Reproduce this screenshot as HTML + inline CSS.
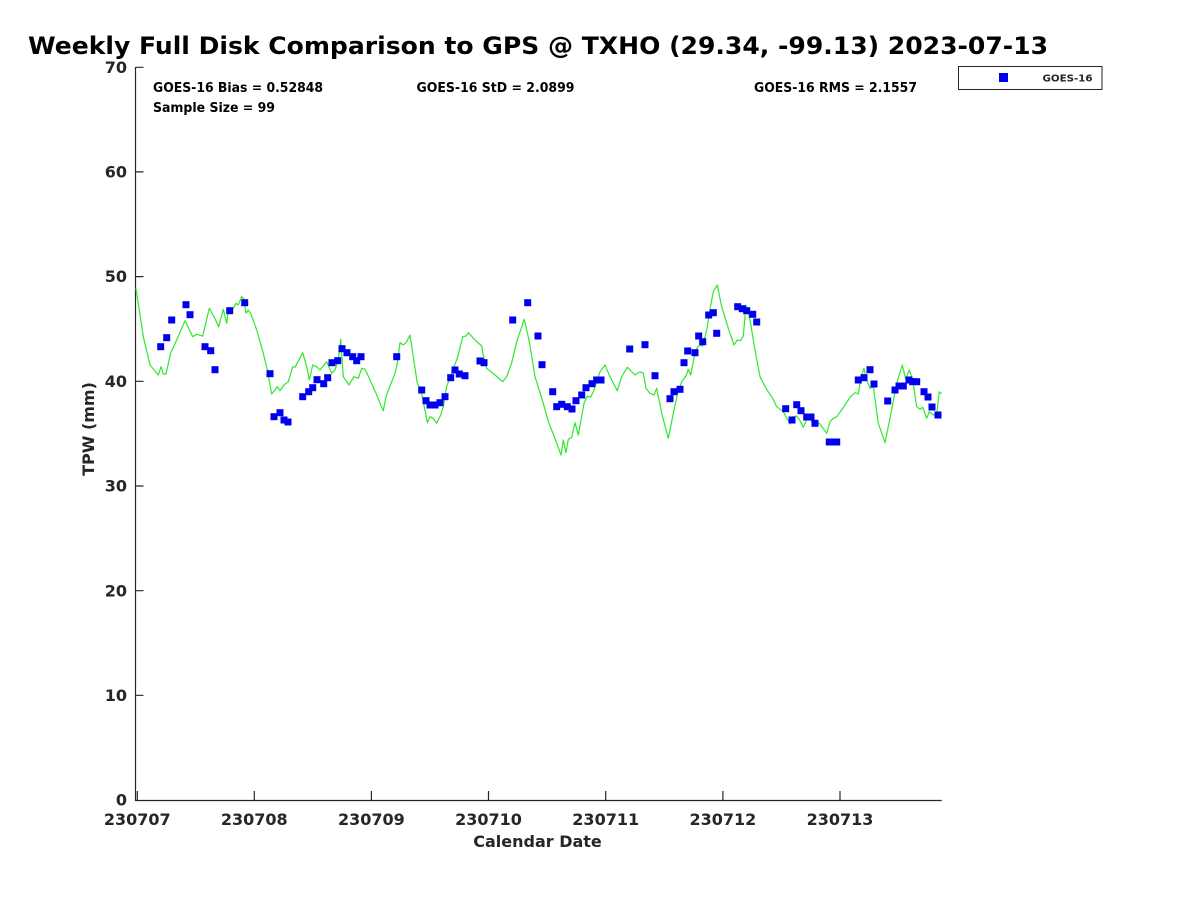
<!DOCTYPE html>
<html><head><meta charset="utf-8"><style>
html,body{margin:0;padding:0;background:#fff;}
svg{display:block;}
text{font-family:"DejaVu Sans","Liberation Sans",sans-serif;font-weight:bold;}
</style></head><body>
<svg width="1200" height="900" viewBox="0 0 1200 900" xmlns="http://www.w3.org/2000/svg">
<defs>
<marker id="sq" markerUnits="userSpaceOnUse" markerWidth="7" markerHeight="7" refX="3.5" refY="3.5" viewBox="0 0 7 7" overflow="visible">
<rect width="7" height="7" fill="#0000ee"/>
</marker>
</defs>
<rect width="1200" height="900" fill="#fff"/>
<text x="28" y="54" font-size="24" fill="#000" textLength="1020" lengthAdjust="spacingAndGlyphs">Weekly Full Disk Comparison to GPS @ TXHO (29.34, -99.13) 2023-07-13</text>
<path fill="none" stroke="#262626" stroke-width="1.2" d="M135.5 67V800.5M135 800.5H941.7M135.5 67.3h8M135.5 171.9h8M135.5 276.6h8M135.5 381.3h8M135.5 486h8M135.5 590.7h8M135.5 695.3h8M137.3 800v-9M254.3 800v-9M371.4 800v-9M488.5 800v-9M605.7 800v-9M722.9 800v-9M840 800v-9"/>
<g font-size="16" fill="#262626" text-anchor="end">
<text x="127" y="73">70</text>
<text x="127" y="177.5">60</text>
<text x="127" y="282.2">50</text>
<text x="127" y="386.9">40</text>
<text x="127" y="491.6">30</text>
<text x="127" y="596.3">20</text>
<text x="127" y="700.9">10</text>
<text x="127" y="805.6">0</text>
</g>
<g font-size="16" fill="#262626" text-anchor="middle">
<text x="137.3" y="825">230707</text>
<text x="254.3" y="825">230708</text>
<text x="371.4" y="825">230709</text>
<text x="488.5" y="825">230710</text>
<text x="605.7" y="825">230711</text>
<text x="722.9" y="825">230712</text>
<text x="840" y="825">230713</text>
</g>
<text x="537.5" y="847" font-size="16" fill="#262626" text-anchor="middle">Calendar Date</text>
<text transform="translate(94,429) rotate(-90)" font-size="16" fill="#262626" text-anchor="middle">TPW (mm)</text>
<g font-size="13" fill="#000">
<text x="153" y="92" textLength="170" lengthAdjust="spacingAndGlyphs">GOES-16 Bias = 0.52848</text>
<text x="153" y="112" textLength="122" lengthAdjust="spacingAndGlyphs">Sample Size = 99</text>
<text x="416.5" y="92" textLength="158" lengthAdjust="spacingAndGlyphs">GOES-16 StD = 2.0899</text>
<text x="754" y="92" textLength="163" lengthAdjust="spacingAndGlyphs">GOES-16 RMS = 2.1557</text>
</g>
<rect x="958.5" y="66.5" width="143.5" height="23" fill="#fff" stroke="#262626" stroke-width="1"/>
<rect x="999" y="73" width="9" height="9" fill="#0000ee"/>
<text x="1042.5" y="81.5" font-size="10" fill="#262626" textLength="50" lengthAdjust="spacingAndGlyphs">GOES-16</text>
<polyline fill="none" stroke="#2ee82e" stroke-width="1.2" stroke-linejoin="round" points="136,288.3 143.3,336.7 150,365 158.3,375 161,366.7 163.3,374 166,374 170.7,353 176.7,340 185,320.7 192.7,336.7 196.7,334.3 202.7,336 209.3,308.3 214,316.7 218.7,326.7 223.3,309.3 226.7,323.3 228.3,311.7 232.7,309.3 236,303.3 238.3,305 241.7,296.7 244,299.3 246,313.3 248.3,310 250.7,313.3 256.7,330 263.3,353.3 267.3,370 271.7,394 275,390 277.3,386.7 280,390.7 284,385 288.3,381.7 292.7,366.7 295,367.3 302.7,352.7 306.7,366.7 309.3,380 312.7,365 316.7,366.7 320,370 326.7,361.7 331.7,373.3 335,370 338.3,360 340.7,339.3 343.3,376.7 349,385 354,376.7 358.3,378.3 361.7,368.3 365,369.3 369.3,378.3 376,393.3 380,403.3 383.3,410.7 386,396.7 390,386 395,373.3 397.3,363.3 400,342.7 403.3,345 406.7,341.7 410,335 413.3,356.7 417.3,383.3 421.7,393.3 424.3,406.7 427.3,422.7 430,416.7 433.3,418.3 436.7,423.3 440.7,415 443.3,406.7 446.7,386 450,378.3 454,366.7 457.3,358.3 462.7,336.7 466,336 468.3,332.7 475,340 481.7,346 483.3,355 486.7,368.3 495,375 502.7,381.7 506.7,376.7 511.7,362.7 516.7,341.7 524.3,319.3 529.3,341.7 535,376.7 543.3,403.3 548.3,421.7 553.3,434 556.7,443.3 561,455 563.3,440 566,452.7 568.3,439.3 571.7,437.3 575,422.7 578.3,435 584,403.3 587.3,396 590.7,397.3 594,390 600,371.7 605,365 610,376.7 617.3,390.7 621.7,376.7 627.3,367.3 635,375 640,371.7 643.3,373.3 646,388.3 650,393.3 654,395 656.7,388.3 661.7,413.3 668.3,438.3 673.3,413.3 677.3,395 681.7,381.7 686,376 688.3,369.3 690.7,375 694,358.3 696.7,348.3 700,345 702.7,346 706.7,330 710.7,305 713.3,291.7 717.3,285 721.7,306.7 728.3,328.3 734,345 737.3,340 740.7,340.7 743.3,336 746,305 750,320 755,350 760,376.7 766,388.3 773.3,399.3 776.7,406.7 783.3,411.7 786.7,418.3 790,424 792.7,416.7 796.7,416 800,420.7 803.3,427.3 806.7,419.3 809.3,416.7 812.7,424 816,421.7 820,424 826.7,433.3 830,421.7 833.3,418.3 836.7,416.7 841.7,410 850,397.3 855,392.7 858.3,394 860.7,378.3 864,368.3 866.7,380 870,388.3 873.3,386.7 878.3,423.3 885,442.7 890,418.3 896.7,383.3 902.3,365 905.7,379.3 909.3,370 912.7,380 916.7,406.7 920,409.3 922.7,407.3 926.7,418.3 929.3,411.7 933.3,415 936.7,414 939.3,391.7 941.7,394"/>
<polyline fill="none" stroke="none" marker-start="url(#sq)" marker-mid="url(#sq)" marker-end="url(#sq)" points="160.7,346.7 166.7,337.7 171.7,320 186,304.7 190,314.7 205,346.7 210.7,350.7 215,369.7 229.7,310.7 244.7,302.7 270,373.7 274,416.7 280,412.7 284,420 288,422 302.7,396.7 308.7,391.7 312.7,387.7 317,379.7 323.7,383.7 327.7,377.7 332,362.7 337.7,360.7 342,348.7 347,352.7 352.7,356.7 356.7,360.7 361,356.7 396.7,356.7 421.7,390 426,400.7 430,405 435,405 440,402.7 445,396.7 450.7,377.7 455,370 459.3,374 465,375.7 480,361 484,362.7 512.7,320 527.7,302.7 538,336 542,364.7 552.7,391.7 556.7,406.7 561.7,404.3 567.3,406.7 572,409 576,400.7 581.7,395 586,387.7 592,383.7 596.7,380 601,380 629.7,349 645,344.7 655,375.7 670,398.7 674,391.7 680,389.3 684,362.7 687.7,351 695,352.7 698.7,336 702.7,341.7 708.7,315 713.3,312.7 716.7,333.3 737.7,306.7 742.3,308.7 746.7,310.7 752.7,314.3 756.7,322 785.7,408.7 792,420 796.7,404.7 801,410.7 806.7,417 811,417 815,423.3 829.3,442 833.3,442 836.7,442 858.3,380 864,377.7 870,369.7 874,384 887.7,401 895,390 899,386 903.3,386 909,380 912.7,381.7 916.7,381.7 924,391.7 928,397 932,407 938,415"/>
</svg>
</body></html>
